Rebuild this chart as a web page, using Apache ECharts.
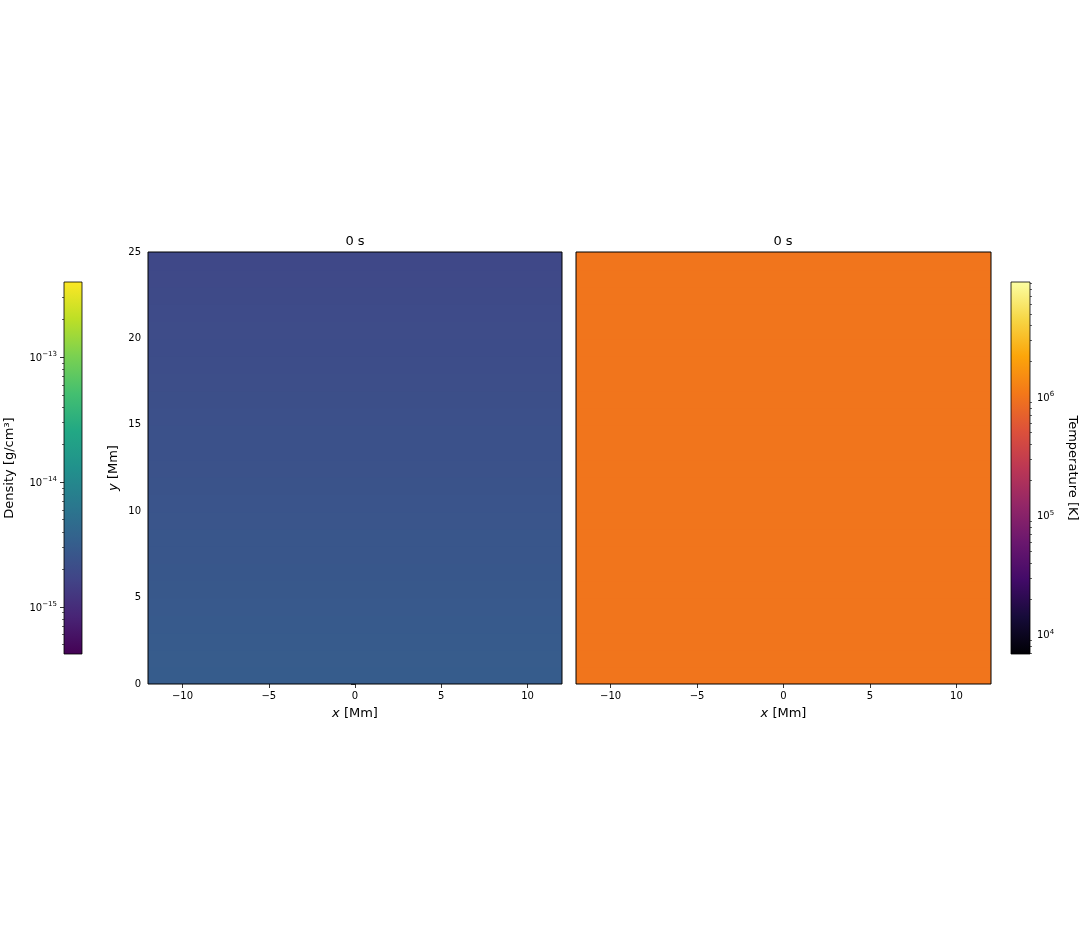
<!DOCTYPE html>
<html><head><meta charset="utf-8">
<script src="https://cdn.jsdelivr.net/npm/echarts@6/dist/echarts.min.js"></script>
<style>html,body{margin:0;padding:0;background:#fff}#c{width:1080px;height:936px}</style>
</head><body><div id="c"></div>
<script>
// ---- data ----
const panelTitles = ['0 s', '0 s'];
const xRange = [-12, 12];
const yRange = [0, 25];
const xTicks = [-10, -5, 0, 5, 10];
const yTicks = [0, 5, 10, 15, 20, 25];
// row edges in height (Mm)
const heightEdges = [0,1,2,3,4,5,6,7,8,9,10,11,12,13,14,15,16,17,18,19,20,21,22,23,24,25];
const density = [3.07e-15,3.01e-15,2.94e-15,2.88e-15,2.82e-15,2.76e-15,2.70e-15,2.64e-15,2.59e-15,2.53e-15,
                 2.48e-15,2.43e-15,2.38e-15,2.33e-15,2.28e-15,2.23e-15,2.18e-15,2.14e-15,2.09e-15,2.05e-15,
                 2.01e-15,1.97e-15,1.93e-15,1.89e-15,1.85e-15];
const temperature = [1e6,1e6,1e6,1e6,1e6,1e6,1e6,1e6,1e6,1e6,1e6,1e6,1e6,1e6,1e6,1e6,1e6,1e6,1e6,1e6,1e6,1e6,1e6,1e6,1e6];
// colour bar ranges and ticks
const densityRange = [4.2e-16, 4.0e-13];
const densityMajorTicks = [1e-15, 1e-14, 1e-13];
const densityMinorTicks = [5e-16,6e-16,7e-16,8e-16,9e-16,2e-15,3e-15,4e-15,5e-15,6e-15,7e-15,8e-15,9e-15,
                           2e-14,3e-14,4e-14,5e-14,6e-14,7e-14,8e-14,9e-14,2e-13,3e-13];
const tempRange = [6.9e3, 9.25e6];
const tempMajorTicks = [1e4, 1e5, 1e6];
const tempMinorTicks = [7e3,8e3,9e3,2e4,3e4,4e4,5e4,6e4,7e4,8e4,9e4,2e5,3e5,4e5,5e5,6e5,7e5,8e5,9e5,
                        2e6,3e6,4e6,5e6,6e6,7e6,8e6,9e6];
const viridis = ['#440154','#482475','#414487','#355f8d','#2a788e','#21918c','#22a884','#44bf70','#7ad151','#bddf26','#fde725'];
const inferno = ['#000004','#160b39','#420a68','#6a176e','#932667','#bc3754','#dd513a','#f37819','#fca50a','#f6d746','#fcffa4'];

// ---- build ----
const L = Math.log10;
const FONT = 'DejaVu Sans';
const densityCells = density.map((v, i) => [xRange[0], xRange[1], heightEdges[i], heightEdges[i + 1], L(v)]);
const tempCells = temperature.map((v, i) => [xRange[0], xRange[1], heightEdges[i], heightEdges[i + 1], L(v)]);
const dLog = [L(densityRange[0]), L(densityRange[1])];
const tLog = [L(tempRange[0]), L(tempRange[1])];

function powLabel(v) {
  const e = String(Math.round(v)).replace('-', '\u2212');
  return '{b|10}{s|' + e + '}';
}
function minus(v) { return String(v).replace('-', '\u2212'); }

function cellRender(params, api) {
  const p0 = api.coord([api.value(0), api.value(3)]);
  const p1 = api.coord([api.value(1), api.value(2)]);
  return { type: 'rect', shape: { x: p0[0], y: p0[1], width: p1[0] - p0[0], height: p1[1] - p0[1] + 1 },
           style: { fill: api.visual('color') } };
}
function barRender(cmap) {
  return function (params, api) {
    const p0 = api.coord([api.value(0), api.value(3)]);
    const p1 = api.coord([api.value(1), api.value(2)]);
    const stops = cmap.map((c, i) => ({ offset: i / (cmap.length - 1), color: c }));
    return { type: 'rect', shape: { x: p0[0], y: p0[1], width: p1[0] - p0[0], height: p1[1] - p0[1] },
             style: { fill: new echarts.graphic.LinearGradient(0, 1, 0, 0, stops), stroke: '#000', lineWidth: 0.8 } };
  };
}

const txt = { color: '#000', fontFamily: FONT };
const supRich = {
  b: { fontSize: 10, lineHeight: 12, verticalAlign: 'bottom', ...txt },
  s: { fontSize: 7, lineHeight: 12, verticalAlign: 'top', ...txt }
};
function panelX(gi) {
  return {
    type: 'value', gridIndex: gi, min: xRange[0], max: xRange[1],
    axisLine: { show: false },
    axisTick: { show: true, length: 4, customValues: xTicks, lineStyle: { color: '#000', width: 0.8 } },
    axisLabel: { customValues: xTicks, formatter: minus, margin: 7, fontSize: 10, ...txt },
    splitLine: { show: false },
    name: '{i|x} [Mm]', nameLocation: 'middle', nameGap: 23,
    nameTextStyle: { fontSize: 13, ...txt, rich: { i: { fontStyle: 'italic', fontSize: 13, ...txt } } }
  };
}
function hiddenX(gi) { return { type: 'value', gridIndex: gi, min: 0, max: 1, show: false }; }
function barAxis(gi, pos, range, ticks, name, nameGap, nameRotate) {
  return {
    type: 'value', gridIndex: gi, position: pos, min: range[0], max: range[1],
    axisLine: { show: false }, splitLine: { show: false },
    axisTick: { show: true, length: 4, customValues: ticks.map(L), lineStyle: { color: '#000', width: 0.8 } },
    axisLabel: { customValues: ticks.map(L), formatter: powLabel, margin: 7, fontSize: 10, ...txt, rich: supRich },
    name: name, nameLocation: 'middle', nameGap: nameGap, nameRotate: nameRotate,
    nameTextStyle: { fontSize: 13, ...txt }
  };
}
function minorAxis(gi, pos, range, ticks) {
  return {
    type: 'value', gridIndex: gi, position: pos, min: range[0], max: range[1],
    axisLine: { show: false }, splitLine: { show: false }, axisLabel: { show: false },
    axisTick: { show: true, length: 2, customValues: ticks.map(L), lineStyle: { color: '#000', width: 0.6 } }
  };
}

const option = {
  animation: false,
  backgroundColor: '#fff',
  textStyle: { fontFamily: FONT },
  grid: [
    { left: 148, top: 252, width: 414, height: 432, show: true, borderColor: '#000', borderWidth: 1, z: 5 },
    { left: 576, top: 252, width: 415, height: 432, show: true, borderColor: '#000', borderWidth: 1, z: 5 },
    { left: 64, top: 282, width: 18, height: 372 },
    { left: 1011, top: 282, width: 19, height: 372 }
  ],
  xAxis: [panelX(0), panelX(1), hiddenX(2), hiddenX(3)],
  yAxis: [
    { type: 'value', gridIndex: 0, min: yRange[0], max: yRange[1], interval: 5,
      axisLine: { show: false }, splitLine: { show: false },
      axisTick: { show: true, length: 4, customValues: yTicks, lineStyle: { color: '#000', width: 0.8 } },
      axisLabel: { customValues: yTicks, margin: 7, fontSize: 10, ...txt },
      name: '{i|y} [Mm]', nameLocation: 'middle', nameGap: 28,
      nameTextStyle: { fontSize: 13, ...txt, rich: { i: { fontStyle: 'italic', fontSize: 13, ...txt } } } },
    { type: 'value', gridIndex: 1, min: yRange[0], max: yRange[1], interval: 5,
      axisLine: { show: false }, splitLine: { show: false }, axisTick: { show: false }, axisLabel: { show: false } },
    barAxis(2, 'left', dLog, densityMajorTicks, 'Density [g/cm\u00B3]', 48, 90),
    minorAxis(2, 'left', dLog, densityMinorTicks),
    barAxis(3, 'right', tLog, tempMajorTicks, 'Temperature [K]', 36, -90),
    minorAxis(3, 'right', tLog, tempMinorTicks)
  ],
  visualMap: [
    { type: 'continuous', show: false, min: dLog[0], max: dLog[1], dimension: 4, seriesIndex: 0, inRange: { color: viridis } },
    { type: 'continuous', show: false, min: tLog[0], max: tLog[1], dimension: 4, seriesIndex: 1, inRange: { color: inferno } }
  ],
  series: [
    { type: 'custom', xAxisIndex: 0, yAxisIndex: 0, clip: true, renderItem: cellRender,
      encode: { x: [0, 1], y: [2, 3] }, data: densityCells },
    { type: 'custom', xAxisIndex: 1, yAxisIndex: 1, clip: true, renderItem: cellRender,
      encode: { x: [0, 1], y: [2, 3] }, data: tempCells },
    { type: 'custom', xAxisIndex: 2, yAxisIndex: 2, renderItem: barRender(viridis),
      encode: { x: [0, 1], y: [2, 3] }, data: [[0, 1, dLog[0], dLog[1]]] },
    { type: 'custom', xAxisIndex: 3, yAxisIndex: 4, renderItem: barRender(inferno),
      encode: { x: [0, 1], y: [2, 3] }, data: [[0, 1, tLog[0], tLog[1]]] }
  ],
  graphic: [
    { type: 'text', x: 355, y: 242, style: { text: panelTitles[0], align: 'center', verticalAlign: 'middle', fontSize: 13, fill: '#000', fontFamily: FONT } },
    { type: 'text', x: 783, y: 242, style: { text: panelTitles[1], align: 'center', verticalAlign: 'middle', fontSize: 13, fill: '#000', fontFamily: FONT } }
  ]
};
const chart = echarts.init(document.getElementById('c'), null, { renderer: 'canvas' });
chart.setOption(option);
</script>
</body></html>
